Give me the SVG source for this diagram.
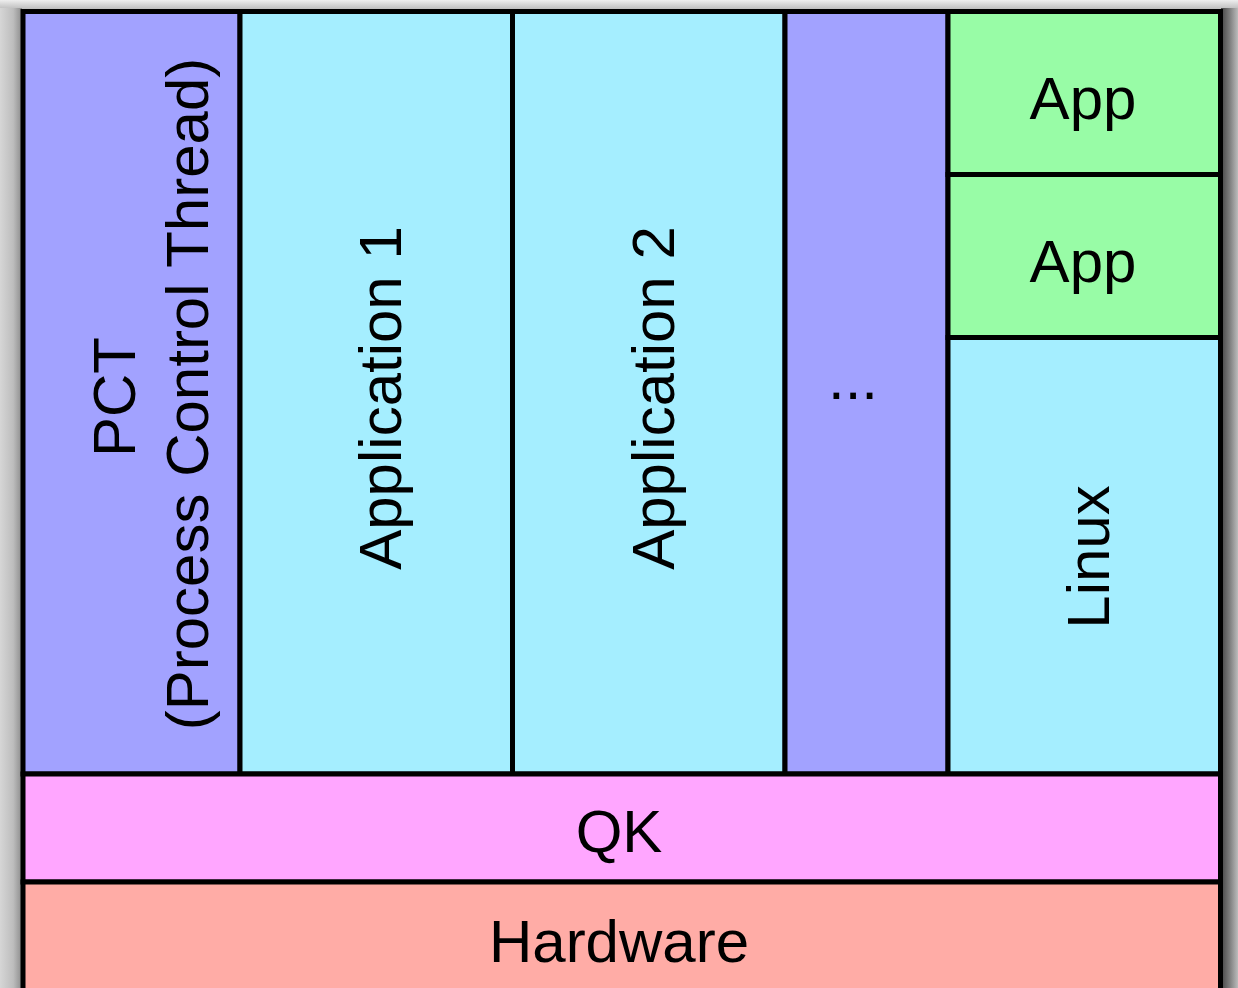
<svg xmlns="http://www.w3.org/2000/svg" width="1238" height="988" viewBox="0 0 1238 988">
  <defs>
    <linearGradient id="shadeLeft" x1="0" y1="0" x2="1" y2="0">
      <stop offset="0" stop-color="#d6d6d6"/>
      <stop offset="0.6" stop-color="#bdbdbd"/>
      <stop offset="1" stop-color="#8c8c8c"/>
    </linearGradient>
    <linearGradient id="shadeRight" x1="0" y1="0" x2="1" y2="0">
      <stop offset="0" stop-color="#444"/>
      <stop offset="0.5" stop-color="#7c7c7c"/>
      <stop offset="1" stop-color="#bcbcbc"/>
    </linearGradient>
    <linearGradient id="shadeTop" x1="0" y1="0" x2="0" y2="1">
      <stop offset="0" stop-color="#eeeeee"/>
      <stop offset="1" stop-color="#b8b8b8"/>
    </linearGradient>
  </defs>
  <style>
    .box { stroke: #000; stroke-width: 5; }
    .pct { fill: #a2a2ff; }
    .app { fill: #a5eeff; }
    .mini { fill: #98fca6; }
    .qk { fill: #ffa6ff; }
    .hw { fill: #ffaca6; }
    .lbl { font-family: "Liberation Sans", Arial, sans-serif; font-size: 60px; fill: #000; text-anchor: middle; }
  </style>
  <rect width="1238" height="988" fill="#fff"/>

  <!-- shaded margin around the stack -->
  <rect x="0" y="0" width="1238" height="10" fill="url(#shadeTop)"/>
  <rect x="0" y="8" width="22" height="980" fill="url(#shadeLeft)"/>
  <rect x="1221" y="8" width="17" height="980" fill="url(#shadeRight)"/>

  <g id="pct">
    <rect class="box pct" x="23" y="11.5" width="217" height="762.5"/>
    <text class="lbl" transform="translate(135 397) rotate(-90)">PCT</text>
    <text class="lbl" transform="translate(208 394) rotate(-90)">(Process Control Thread)</text>
  </g>

  <g id="application1">
    <rect class="box app" x="240" y="11.5" width="272.5" height="762.5"/>
    <text class="lbl" transform="translate(401 398) rotate(-90)">Application 1</text>
  </g>

  <g id="application2">
    <rect class="box app" x="512.5" y="11.5" width="272.5" height="762.5"/>
    <text class="lbl" transform="translate(673.5 398) rotate(-90)">Application 2</text>
  </g>

  <g id="more">
    <rect class="box pct" x="785" y="11.5" width="163" height="762.5"/>
    <text class="lbl" x="853" y="399">...</text>
  </g>

  <g id="app-top">
    <rect class="box mini" x="948" y="11.5" width="272.5" height="163"/>
    <text class="lbl" x="1083" y="119">App</text>
  </g>

  <g id="app-bottom">
    <rect class="box mini" x="948" y="174.5" width="272.5" height="163"/>
    <text class="lbl" x="1083" y="282">App</text>
  </g>

  <g id="linux">
    <rect class="box app" x="948" y="337.5" width="272.5" height="436.5"/>
    <text class="lbl" transform="translate(1109 557) rotate(-90)">Linux</text>
  </g>

  <g id="qk">
    <rect class="box qk" x="23" y="774" width="1197.5" height="108"/>
    <text class="lbl" x="619" y="852">QK</text>
  </g>

  <g id="hardware">
    <rect class="box hw" x="23" y="882" width="1197.5" height="130"/>
    <text class="lbl" x="619" y="962">Hardware</text>
  </g>

  <g id="connectors"/>
</svg>
